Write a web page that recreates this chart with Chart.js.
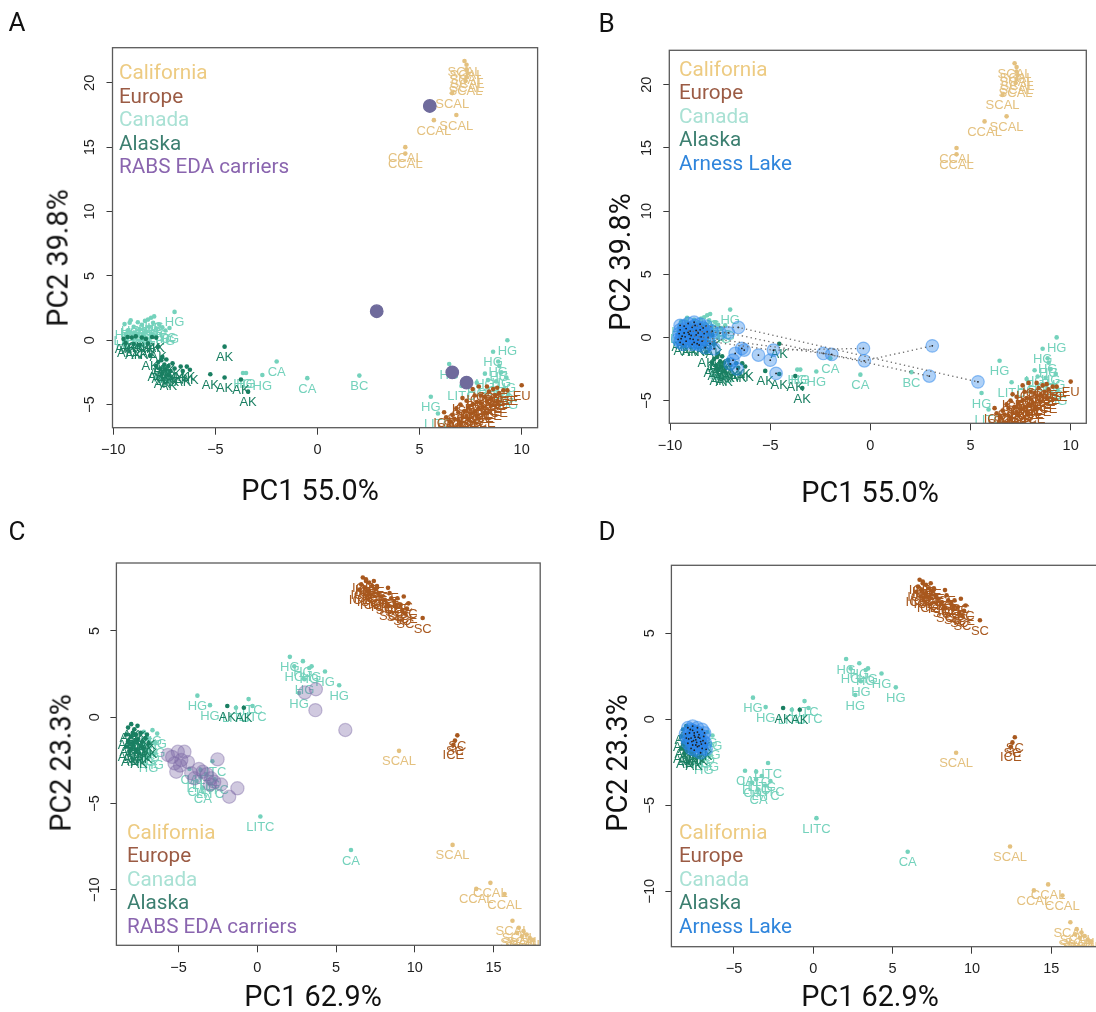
<!DOCTYPE html>
<html>
<head>
<meta charset="utf-8">
<script src="https://cdn.jsdelivr.net/npm/chart.js@4.4.1/dist/chart.umd.min.js"></script>
<style>
  html, body { margin: 0; padding: 0; background: #fff; }
  #fig { position: relative; width: 1096px; height: 1012px; overflow: hidden; }
  canvas { position: absolute; }
  .tag { position: absolute; font: 26px/1 Roboto, sans-serif; color: #111; }
  .xt { position: absolute; font: 28.8px/1 Roboto, sans-serif; color: #111; white-space: nowrap; transform: translateX(-50%); }
  .yt { position: absolute; font: 28.8px/1 Roboto, sans-serif; color: #111; white-space: nowrap; transform: translate(-50%, -50%) rotate(-90deg); }
  .key { position: absolute; font: 20.7px/23.5px Roboto, sans-serif; white-space: nowrap; }
  .key span { display: block; }
</style>
</head>
<body>
<div id="fig">
  <canvas id="chartA" width="548" height="506" style="left:0;top:0"></canvas>
  <canvas id="chartB" width="548" height="506" style="left:548px;top:0"></canvas>
  <canvas id="chartC" width="548" height="506" style="left:0;top:506px"></canvas>
  <canvas id="chartD" width="560" height="506" style="left:548px;top:506px"></canvas>

  <div class="tag" style="left:8.5px;top:8.5px">A</div>
  <div class="tag" style="left:598.5px;top:10px">B</div>
  <div class="tag" style="left:8.5px;top:517.5px">C</div>
  <div class="tag" style="left:598.5px;top:517.5px">D</div>

  <div class="xt" style="left:310px;top:475.5px">PC1 55.0%</div>
  <div class="xt" style="left:870px;top:478px">PC1 55.0%</div>
  <div class="xt" style="left:313px;top:982px">PC1 62.9%</div>
  <div class="xt" style="left:870px;top:982px">PC1 62.9%</div>

  <div class="yt" style="left:58px;top:258px">PC2 39.8%</div>
  <div class="yt" style="left:620px;top:262px">PC2 39.8%</div>
  <div class="yt" style="left:61px;top:763px">PC2 23.3%</div>
  <div class="yt" style="left:617px;top:763px">PC2 23.3%</div>

  <div class="key" style="left:119px;top:61px">
    <span style="color:#EDCB82">California</span>
    <span style="color:#9B5B44">Europe</span>
    <span style="color:#A9E1D4">Canada</span>
    <span style="color:#3C7F70">Alaska</span>
    <span style="color:#8A65AF">RABS EDA carriers</span>
  </div>
  <div class="key" style="left:679px;top:57.5px">
    <span style="color:#EDCB82">California</span>
    <span style="color:#9B5B44">Europe</span>
    <span style="color:#A9E1D4">Canada</span>
    <span style="color:#3C7F70">Alaska</span>
    <span style="color:#2F85DC">Arness Lake</span>
  </div>
  <div class="key" style="left:127px;top:820.5px">
    <span style="color:#EDCB82">California</span>
    <span style="color:#9B5B44">Europe</span>
    <span style="color:#A9E1D4">Canada</span>
    <span style="color:#3C7F70">Alaska</span>
    <span style="color:#8A65AF">RABS EDA carriers</span>
  </div>
  <div class="key" style="left:679px;top:820.5px">
    <span style="color:#EDCB82">California</span>
    <span style="color:#9B5B44">Europe</span>
    <span style="color:#A9E1D4">Canada</span>
    <span style="color:#3C7F70">Alaska</span>
    <span style="color:#2F85DC">Arness Lake</span>
  </div>
</div>

<script>
// tick positions
const ticksPc55X = [-10, -5, 0, 5, 10];
const ticksPc55Y = [-5, 0, 5, 10, 15, 20];
const ticksPc62X = [-5, 0, 5, 10, 15];
const ticksPc62Y = [-10, -5, 0, 5];

// PCA 1 (PC1 55.0%, PC2 39.8%): [PC1, PC2, population code]
const abCanada = [
  [-9.45, 1.25, 'HG'], [-9.3, 0.75, 'LITC'], [-9.15, 1.55, 'HG'], [-9.0, 1.05, 'HG'], [-8.95, 0.55, 'HG'],
  [-8.8, 1.4, 'HG'], [-8.7, 0.85, 'LITC'], [-8.6, 1.2, 'HG'], [-8.45, 1.5, 'HG'], [-8.4, 0.7, 'HG'],
  [-8.25, 1.05, 'LITC'], [-8.15, 1.75, 'HG'], [-8.05, 1.35, 'HG'], [-8.0, 1.85, 'HG'], [-7.9, 0.9, 'LITC'],
  [-7.75, 1.2, 'HG'], [-7.6, 1.0, 'LITC'], [-7.45, 0.75, 'HG'], [-9.4, 0.45, 'HG'], [-8.55, 0.5, 'CA'],
  [-9.2, 1.35, 'HG'], [-8.3, 1.6, 'HG'], [-7.0, 2.2, 'HG'], [-7.25, 0.95, 'HG'],
  [-7.55, -2.1, 'HG'], [-7.3, -2.45, 'HG'], [-3.65, -2.55, 'HG'], [-3.5, -2.55, 'HG'], [-2.7, -2.7, 'HG'],
  [-2.0, -1.65, 'CA'], [-0.5, -2.95, 'CA'], [2.05, -2.75, 'BC'],
  [9.3, 0.0, 'HG'], [8.6, -0.9, 'HG'], [8.85, -1.65, 'HG'], [8.9, -2.0, 'HG'], [8.2, -2.6, 'HG'],
  [6.45, -1.85, 'HG'], [5.55, -4.4, 'HG'], [5.9, -5.7, 'LITC'], [7.05, -3.55, 'LITC'], [9.25, -2.9, 'HG'],
  [8.75, -3.2, 'HG'], [9.15, -3.75, 'HG'], [9.35, -4.2, 'HG'], [8.35, -3.1, 'HG'], [7.8, -3.3, 'HG'], [9.0, -2.5, 'HG']
];
const abAlaska = [
  [-9.5, 0.1, 'AK'], [-9.3, 0.25, 'AK'], [-9.1, 0.2, 'AK'], [-8.9, 0.3, 'AK'], [-8.6, 0.2, 'AK'],
  [-8.4, 0.1, 'AK'], [-8.1, 0.25, 'AK'], [-7.9, 0.2, 'AK'], [-9.4, -0.2, 'AK'], [-9.0, -0.3, 'AK'],
  [-8.7, -0.35, 'AK'], [-8.3, -0.25, 'AK'], [-7.8, -0.5, 'AK'],
  [-8.2, -1.2, 'AK'], [-7.6, -1.3, 'AK'], [-7.4, -1.5, 'AK'], [-7.8, -1.7, 'AK'], [-7.5, -1.9, 'AK'],
  [-7.3, -2.0, 'AK'], [-7.7, -2.2, 'AK'], [-7.45, -2.3, 'AK'], [-7.2, -2.4, 'AK'], [-7.9, -2.0, 'AK'],
  [-7.6, -2.6, 'AK'], [-7.3, -2.7, 'AK'], [-7.0, -2.2, 'AK'], [-7.1, -1.8, 'AK'], [-7.65, -1.55, 'AK'],
  [-6.7, -2.05, 'AK'], [-6.4, -2.05, 'AK'], [-6.25, -2.3, 'AK'], [-6.6, -2.4, 'AK'],
  [-4.55, -0.5, 'AK'], [-5.25, -2.65, 'AK'], [-4.55, -2.9, 'AK'], [-3.75, -3.05, 'AK'], [-3.4, -4.0, 'AK']
];
const abEurope = [
  [6.5, -6.3, 'SC'], [6.7, -6.1, 'SC'], [6.9, -6.2, 'ICE'], [7.1, -6.0, 'SC'], [7.3, -5.9, 'ICE'],
  [6.6, -5.8, 'SC'], [6.9, -5.6, 'ICE'], [7.2, -5.5, 'SC'], [7.5, -5.7, 'ICE'], [7.7, -5.5, 'SC'],
  [7.9, -5.3, 'ICE'], [8.1, -5.2, 'ICE'], [7.4, -5.2, 'SC'], [7.6, -5.0, 'ICE'], [7.8, -4.8, 'SC'],
  [8.0, -4.9, 'ICE'], [8.3, -4.7, 'ICE'], [8.5, -4.5, 'ICE'], [8.2, -4.4, 'SC'], [8.7, -4.3, 'ICE'],
  [8.9, -4.1, 'ICE'], [8.4, -4.0, 'ICE'], [8.6, -3.8, 'SC'], [9.1, -3.9, 'ICE'], [8.0, -4.3, 'SC'],
  [7.7, -4.3, 'SC'], [7.3, -4.7, 'SC'], [7.0, -5.0, 'SC'], [7.1, -4.5, 'ICE'], [7.6, -3.8, 'IC'],
  [7.9, -3.6, 'IC'], [8.3, -3.6, 'IC'], [8.8, -3.7, 'ICE'], [9.3, -3.9, 'ICE'], [10.0, -3.5, 'EU'],
  [6.3, -6.0, 'SC'], [7.0, -6.4, 'SC'], [7.4, -6.2, 'ICE'], [7.8, -5.9, 'ICE'], [8.2, -5.6, 'ICE'],
  [8.5, -5.1, 'ICE'], [8.8, -4.8, 'ICE'], [6.2, -5.6, 'ICE'], [6.8, -5.3, 'SC']
];
const abCalifornia = [
  [7.2, 21.7, 'SCAL'], [7.3, 21.4, 'SCAL'], [7.3, 21.05, 'SCAL'], [7.35, 20.75, 'SCAL'], [7.3, 20.45, 'SCAL'],
  [7.25, 20.15, 'SCAL'], [6.6, 19.2, 'SCAL'], [6.8, 17.5, 'SCAL'], [5.7, 17.1, 'CCAL'],
  [4.3, 15.0, 'CCAL'], [4.3, 14.5, 'CCAL']
];
const aCarriers = [[5.5, 18.2], [2.9, 2.25], [6.6, -2.5], [7.3, -3.3]];
const bArness = [
  [-9.5, 0.6], [-9.3, 0.9], [-9.1, 0.4], [-8.9, 0.8], [-8.7, 0.2], [-8.5, 0.6], [-9.4, 0.1], [-9.2, -0.3],
  [-9.0, -0.1], [-8.8, -0.4], [-8.6, -0.2], [-8.3, 0.3], [-8.1, 0.0], [-9.5, -0.4], [-9.3, 0.35], [-8.95, 0.15],
  [-8.7, 0.55], [-8.4, -0.3], [-9.1, 1.1], [-8.8, 1.2], [-8.2, 0.9], [-8.0, -0.5], [-7.9, 0.5], [-9.45, -0.1],
  [-8.55, -0.6], [-8.25, -0.8], [-7.8, -0.9], [-9.0, 0.5], [-9.55, 0.3], [-9.35, -0.55], [-9.2, 0.7],
  [-9.05, 0.25], [-8.85, -0.15], [-8.75, 0.95], [-8.6, 0.35], [-8.45, 0.05], [-8.35, 0.75], [-9.5, 0.95],
  [-9.25, 0.05], [-8.9, -0.55], [-8.65, -0.5], [-9.6, -0.15], [-8.5, 1.05], [-8.15, 0.45],
  [-6.59, 0.79], [-7.09, 0.36], [-7.5, 0.34], [-6.42, -0.87], [-6.75, -1.27], [-5.59, -1.4], [-4.84, -1.01],
  [-5.0, -1.8], [-4.71, -2.85], [-2.35, -1.27], [-1.93, -1.35], [-0.35, -0.87], [-0.3, -1.85], [3.09, -0.67],
  [2.94, -3.06], [5.37, -3.52], [-6.86, -1.8], [-6.65, -2.5], [-7.0, -2.1], [-6.3, -1.0]
];
const bLinks = [
  [[-8.9, 0.9], [-6.59, 0.79], [5.37, -3.52]],
  [[-9.1, 0.5], [-7.09, 0.36], [2.94, -3.06]],
  [[-8.8, 0.1], [-2.35, -1.27], [-0.3, -1.85], [3.09, -0.67]],
  [[-8.6, -0.2], [-4.84, -1.01], [-0.35, -0.87]]
];

// PCA 2 (PC1 62.9%, PC2 23.3%)
const cdCanada = [
  [-7.2, -0.85, 'HG'], [-6.95, -1.2, 'HG'], [-6.65, -0.75, 'HG'], [-6.45, -1.45, 'HG'], [-6.8, -1.7, 'HG'],
  [-7.05, -2.0, 'HG'], [-6.55, -2.15, 'HG'], [-6.35, -0.95, 'HG'], [-7.3, -1.5, 'HG'], [-6.9, -2.35, 'HG'],
  [-3.8, 1.25, 'HG'], [-3.0, 0.7, 'HG'], [-1.35, 0.55, 'LITC'], [-0.55, 1.05, 'LITC'], [-0.3, 0.65, 'LITC'],
  [2.07, 3.5, 'HG'], [2.9, 3.25, 'HG'], [2.35, 2.95, 'HG'], [3.45, 2.95, 'HG'], [4.3, 2.65, 'HG'],
  [5.2, 1.85, 'HG'], [3.0, 2.2, 'HG'], [2.65, 1.4, 'HG'], [3.3, 2.85, 'HG'],
  [-4.3, -3.0, 'CA'], [-3.6, -3.05, 'LITC'], [-2.85, -2.55, 'LITC'], [-3.25, -3.3, 'LITC'], [-3.85, -3.7, 'CA'],
  [-3.0, -3.85, 'LITC'], [-3.45, -4.1, 'CA'], [-2.7, -3.6, 'LITC'], [-3.6, -3.5, 'LITC'],
  [0.2, -5.75, 'LITC'], [5.95, -7.7, 'CA']
];
const cdAlaska = [
  [-8.2, -0.6, 'AK'], [-8.0, -0.4, 'AK'], [-7.8, -0.7, 'AK'], [-7.6, -0.5, 'AK'], [-8.3, -1.0, 'AK'],
  [-8.0, -1.1, 'AK'], [-7.7, -1.0, 'AK'], [-7.4, -0.9, 'AK'], [-8.2, -1.4, 'AK'], [-7.9, -1.5, 'AK'],
  [-7.6, -1.3, 'AK'], [-7.3, -1.4, 'AK'], [-8.0, -1.8, 'AK'], [-7.7, -1.9, 'AK'], [-7.4, -1.7, 'AK'],
  [-7.1, -1.2, 'AK'], [-8.3, -1.7, 'AK'], [-7.5, -2.1, 'AK'], [-7.9, -0.9, 'AK'], [-7.2, -1.8, 'AK'],
  [-8.1, -2.0, 'AK'], [-6.9, -1.5, 'AK'], [-7.0, -1.0, 'AK'],
  [-1.9, 0.65, 'AK'], [-0.85, 0.55, 'AK']
];
const cdEurope = [
  [6.7, 8.1, 'ICE'], [6.9, 7.9, 'ICE'], [6.6, 7.7, 'ICE'], [7.1, 7.8, 'ICE'], [6.8, 7.5, 'ICE'],
  [7.3, 7.6, 'ICE'], [7.0, 7.3, 'ICE'], [6.5, 7.4, 'ICE'], [7.5, 7.4, 'ICE'], [7.2, 7.1, 'ICE'],
  [7.7, 7.2, 'ICE'], [7.9, 7.0, 'ICE'], [8.3, 7.5, 'ICE'], [8.4, 7.2, 'ICE'], [8.1, 6.8, 'SC'],
  [8.5, 6.9, 'ICE'], [8.7, 6.7, 'SC'], [8.9, 6.9, 'ICE'], [8.3, 6.5, 'SC'], [8.8, 6.4, 'SC'],
  [9.1, 6.5, 'SC'], [9.3, 7.0, 'SC'], [9.5, 6.3, 'ICE'], [9.4, 6.0, 'SC'], [9.6, 6.6, 'SC'],
  [10.5, 5.75, 'SC'], [9.2, 6.2, 'SC'], [7.6, 7.6, 'ICE'], [6.9, 8.0, 'ICE'], [7.4, 7.9, 'ICE'],
  [12.7, -1.05, 'SC'], [12.55, -1.35, 'SC'], [12.45, -1.6, 'ICE']
];
const cdCalifornia = [
  [9.0, -1.95, 'SCAL'], [12.4, -7.4, 'SCAL'], [14.8, -9.6, 'CCAL'], [15.7, -10.25, 'CCAL'], [13.9, -9.95, 'CCAL'],
  [16.2, -11.8, 'SCAL'], [16.6, -12.2, 'SCAL'], [16.9, -12.4, 'SCAL'], [17.1, -12.6, 'SCAL'], [16.8, -12.7, 'SCAL'],
  [17.3, -12.8, 'SCAL'], [17.5, -12.9, 'SCAL'], [16.5, -12.5, 'SCAL']
];
const cCarriers = [
  [3.72, 1.62], [3.02, 1.43], [3.69, 0.41], [5.59, -0.74], [-5.67, -2.19], [-5.04, -2.0], [-4.62, -2.0],
  [-4.82, -2.48], [-5.25, -2.67], [-5.14, -3.16], [-4.19, -3.25], [-3.46, -3.16], [-3.99, -3.54], [-2.93, -3.54],
  [-2.52, -2.44], [-2.73, -3.74], [-1.26, -4.12], [-1.78, -4.61], [-4.4, -2.6], [-3.7, -3.0], [-3.2, -3.3],
  [-3.0, -3.9], [-5.4, -2.3], [-4.9, -2.8], [-2.3, -3.9]
];
const dArness = [
  [-7.9, -0.5], [-7.6, -0.4], [-7.3, -0.5], [-7.0, -0.6], [-7.8, -0.8], [-7.5, -0.8], [-7.2, -0.9],
  [-6.9, -1.0], [-8.0, -1.1], [-7.7, -1.1], [-7.4, -1.2], [-7.1, -1.3], [-6.8, -1.4], [-7.9, -1.4],
  [-7.6, -1.5], [-7.3, -1.6], [-7.0, -1.7], [-7.5, -0.95], [-7.25, -1.05], [-7.65, -1.3], [-7.35, -1.35],
  [-6.85, -0.8], [-7.1, -1.95], [-6.75, -1.75], [-7.6, -0.65], [-7.85, -1.15], [-7.45, -1.05], [-7.15, -1.1],
  [-7.55, -1.25], [-7.3, -0.75], [-7.75, -0.6], [-7.05, -1.45], [-7.4, -1.5], [-7.7, -1.7], [-6.95, -1.25],
  [-7.2, -1.55], [-7.5, -1.8], [-8.05, -0.85]
];

const COL = { california: '#E4C17F', europe: '#A8581E', canada: '#74D2BC', alaska: '#1A7F62' };

const toPoints = rows => rows.map(([x, y, t]) => ({ x, y, t }));

// lower order = drawn on top
function sampleSet(rows, color, order) {
  return { data: toPoints(rows), pointBackgroundColor: color, pointBorderWidth: 0, pointRadius: 2.3, labelColor: color, order };
}
function ringSet(rows, fill, edge, r, order) {
  return { data: toPoints(rows), pointBackgroundColor: fill, pointBorderColor: edge, pointBorderWidth: 1.2, pointRadius: r, order };
}
function coreSet(rows) {
  return { data: toPoints(rows), pointBackgroundColor: '#1d1d1d', pointBorderWidth: 0, pointRadius: 0.9, order: 1 };
}
function linkSet(rows) {
  return { data: toPoints(rows), showLine: true, borderColor: '#6a6a6a', borderWidth: 1.3, borderDash: [1.3, 3.2], pointRadius: 0, order: 0 };
}
const pc55Base = () => [
  sampleSet(abCalifornia, COL.california, 3), sampleSet(abEurope, COL.europe, 4),
  sampleSet(abAlaska, COL.alaska, 5), sampleSet(abCanada, COL.canada, 6)
];
const pc62Base = () => [
  sampleSet(cdCalifornia, COL.california, 3), sampleSet(cdEurope, COL.europe, 4),
  sampleSet(cdAlaska, COL.alaska, 5), sampleSet(cdCanada, COL.canada, 6)
];

// population code under each sample, clipped to the plot region
const pointLabels = {
  id: 'pointLabels',
  afterDatasetDraw(chart, args) {
    const ds = chart.data.datasets[args.index];
    if (!ds.labelColor) return;
    const { ctx, chartArea: a } = chart;
    ctx.save();
    ctx.beginPath();
    ctx.rect(a.left, a.top, a.right - a.left, a.bottom - a.top);
    ctx.clip();
    ctx.font = '13px "Liberation Sans", Arial, sans-serif';
    ctx.fillStyle = ds.labelColor;
    ctx.textAlign = 'center';
    ctx.textBaseline = 'middle';
    args.meta.data.forEach((el, i) => ctx.fillText(ds.data[i].t, el.x, el.y + 11));
    ctx.restore();
  }
};

const frame = {
  id: 'frame',
  afterDatasetsDraw(chart) {
    const { ctx, chartArea: a } = chart;
    ctx.save();
    ctx.strokeStyle = '#5a5a5a';
    ctx.lineWidth = 1.3;
    ctx.strokeRect(a.left, a.top, a.right - a.left, a.bottom - a.top);
    ctx.restore();
  }
};

const fmt = v => (v < 0 ? '\u2212' : '') + Math.abs(v);
const tickFont = { family: '"Liberation Sans", Arial, sans-serif', size: 14.5 };

function drawPanel(id, datasets, view) {
  const canvas = document.getElementById(id);
  const [left, top, right, bottom] = view.area;
  return new Chart(canvas, {
    type: 'scatter',
    data: { datasets },
    options: {
      responsive: false,
      animation: false,
      events: [],
      layout: { padding: { left: 0, top: top, right: canvas.width - right, bottom: 0 } },
      plugins: { legend: { display: false }, tooltip: { enabled: false } },
      scales: {
        x: {
          type: 'linear', min: view.x[0], max: view.x[1],
          afterBuildTicks: s => { s.ticks = view.xTicks.map(value => ({ value })); },
          afterFit: s => { s.height = canvas.height - bottom; },
          grid: { drawOnChartArea: false, tickLength: 7, color: '#3a3a3a' },
          border: { display: false },
          ticks: { callback: fmt, font: tickFont, color: '#1e1e1e', padding: 7, maxRotation: 0, autoSkip: false }
        },
        y: {
          type: 'linear', min: view.y[0], max: view.y[1],
          afterBuildTicks: s => { s.ticks = view.yTicks.map(value => ({ value })); },
          afterFit: s => { s.width = left; },
          grid: { drawOnChartArea: false, tickLength: 6, color: '#3a3a3a' },
          border: { display: false },
          ticks: { callback: fmt, font: tickFont, color: '#1e1e1e', padding: view.yPad,
                   minRotation: 90, maxRotation: 90, crossAlign: 'center', autoSkip: false }
        }
      }
    },
    plugins: [pointLabels, frame]
  });
}

const view55 = { x: [-10.04, 10.78], y: [-6.8, 22.73], xTicks: ticksPc55X, yTicks: ticksPc55Y, yPad: 7.8 };
const view62 = { x: [-8.94, 17.96], y: [-13.22, 8.94], xTicks: ticksPc62X, yTicks: ticksPc62Y, yPad: 3.5 };

const arnessFill = 'rgba(45,135,235,0.38)';
const arnessEdge = 'rgba(45,135,235,0.5)';

drawPanel('chartA', [
  ...pc55Base(),
  ringSet(aCarriers, '#6F6B9C', '#6F6B9C', 6.3, 2)
], { ...view55, area: [112.5, 47.7, 537.6, 427.7] });

drawPanel('chartB', [
  ...pc55Base(),
  ringSet(bArness, arnessFill, arnessEdge, 6.3, 2),
  coreSet(bArness),
  ...bLinks.map(linkSet)
], { ...view55, area: [121.3, 50.3, 538.3, 423.3] });

drawPanel('chartC', [
  ...pc62Base(),
  ringSet(cCarriers, 'rgba(125,105,165,0.36)', 'rgba(125,105,165,0.42)', 6.6, 2)
], { ...view62, area: [116.4, 57, 543.5, 439.3] });

drawPanel('chartD', [
  ...pc62Base(),
  ringSet(dArness, arnessFill, arnessEdge, 6.3, 2),
  coreSet(dArness)
], { ...view62, area: [123.4, 59.3, 550.3, 440.7] });
</script>
</body>
</html>
